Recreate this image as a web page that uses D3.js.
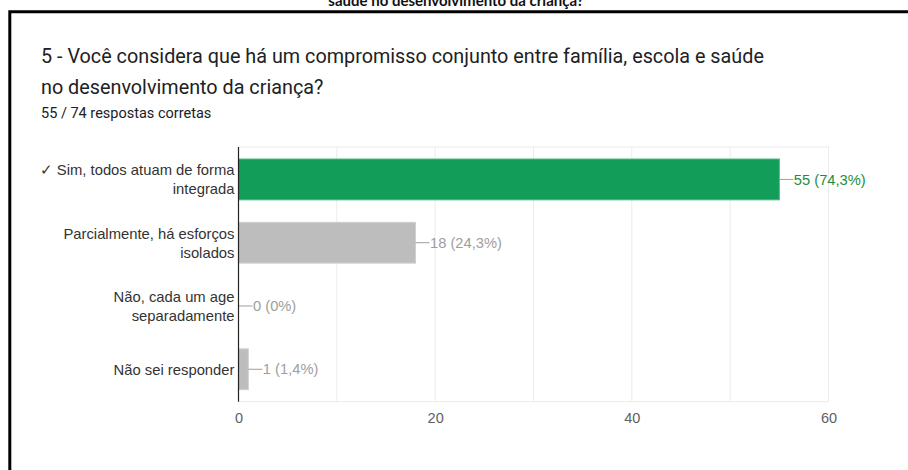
<!DOCTYPE html>
<html>
<head>
<meta charset="utf-8">
<script src="https://cdn.jsdelivr.net/npm/d3@7"></script>
<style>
  html, body { margin: 0; padding: 0; background: #ffffff; }
  svg { display: block; }
</style>
</head>
<body>
<svg id="chart" width="908" height="470"></svg>
<script>
// Survey question 5: answers and counts
const categories = [
  ["✓ Sim, todos atuam de forma", "integrada"],
  ["Parcialmente, há esforços", "isolados"],
  ["Não, cada um age", "separadamente"],
  ["Não sei responder"]
];
const counts = [55, 18, 0, 1];
const percentLabels = ["74,3%", "24,3%", "0%", "1,4%"];
const correct = [true, false, false, false];
const xTicks = [0, 20, 40, 60];
const gridTicks = [10, 20, 30, 40, 50, 60];

const svg = d3.select("#chart");

// heading carried over from the document page above
svg.append("text")
  .attr("x", 456).attr("y", 6)
  .attr("text-anchor", "middle")
  .attr("font-family", "Lato, 'Liberation Sans', sans-serif")
  .attr("font-weight", "bold")
  .attr("font-size", 15)
  .attr("fill", "#111")
  .text("saúde no desenvolvimento da criança?");

// frame (top and left edges)
svg.append("path")
  .attr("d", "M9.8,908 V11.8 H908")
  .attr("fill", "none")
  .attr("stroke", "#000")
  .attr("stroke-width", 3);

// question title
const title = svg.append("text")
  .attr("font-family", "Roboto, sans-serif")
  .attr("font-size", 19.8)
  .attr("fill", "#202124");
title.append("tspan").attr("x", 41).attr("y", 63)
  .text("5 - Você considera que há um compromisso conjunto entre família, escola e saúde");
title.append("tspan").attr("x", 41).attr("y", 94)
  .text("no desenvolvimento da criança?");

svg.append("text")
  .attr("x", 41).attr("y", 118)
  .attr("font-family", "Roboto, sans-serif")
  .attr("font-size", 14.5)
  .attr("fill", "#202124")
  .text("55 / 74 respostas corretas");

// plot area
const plot = { left: 238.5, right: 828.5, top: 147, bottom: 401.7 };

const x = d3.scaleLinear().domain([0, 60]).range([plot.left, plot.right]);
const y = d3.scaleBand()
  .domain(d3.range(categories.length))
  .range([plot.top, plot.bottom])
  .paddingInner(0.355)
  .paddingOuter(0.19);

// gridlines and box
const g = svg.append("g");
g.selectAll("line.grid")
  .data(gridTicks)
  .join("line")
  .attr("class", "grid")
  .attr("x1", d => x(d)).attr("x2", d => x(d))
  .attr("y1", plot.top).attr("y2", plot.bottom)
  .attr("stroke", "#ebebeb").attr("stroke-width", 1);
[plot.top, plot.bottom].forEach(yy => {
  g.append("line")
    .attr("x1", plot.left).attr("x2", x(60))
    .attr("y1", yy).attr("y2", yy)
    .attr("stroke", "#ebebeb").attr("stroke-width", 1);
});

// bars
g.selectAll("rect.bar")
  .data(counts)
  .join("rect")
  .attr("class", "bar")
  .attr("x", x(0))
  .attr("y", (d, i) => y(i))
  .attr("width", d => x(d) - x(0))
  .attr("height", y.bandwidth())
  .attr("fill", (d, i) => correct[i] ? "#129d59" : "#bdbdbd")
  .attr("stroke", (d, i) => d === 0 ? "none" : (correct[i] ? "#4cb880" : "#cfcfcf"))
  .attr("stroke-width", 1);

// value labels with leader lines
const labels = g.selectAll("g.val")
  .data(counts)
  .join("g")
  .attr("class", "val")
  .attr("transform", (d, i) => `translate(${x(d)},${y(i) + y.bandwidth() / 2})`);
labels.append("line")
  .attr("x1", 0).attr("x2", 14)
  .attr("y1", 0).attr("y2", 0)
  .attr("stroke", "#9e9e9e").attr("stroke-width", 1);
labels.append("text")
  .attr("x", 14.5).attr("dy", "0.35em")
  .attr("font-family", "'Liberation Sans', Arial, sans-serif")
  .attr("font-size", 14.7)
  .attr("fill", (d, i) => correct[i] ? "#1e8e3e" : "#9e9e9e")
  .text((d, i) => `${d} (${percentLabels[i]})`);

// category labels
const cats = g.selectAll("text.cat")
  .data(categories)
  .join("text")
  .attr("class", "cat")
  .attr("text-anchor", "end")
  .attr("font-family", "'Liberation Sans', Arial, sans-serif")
  .attr("font-size", 14.8)
  .attr("fill", "#333");
cats.each(function(lines, i) {
  const cy = y(i) + y.bandwidth() / 2;
  const lh = 19;
  const start = cy - (lines.length - 1) * lh / 2;
  d3.select(this).selectAll("tspan")
    .data(lines)
    .join("tspan")
    .attr("x", 234.5)
    .attr("y", (t, k) => start + k * lh)
    .attr("dy", "0.36em")
    .text(t => t);
});

// x axis tick labels
const xAxis = d3.axisBottom(x).tickValues(xTicks).tickSize(0).tickPadding(11);
const ax = svg.append("g")
  .attr("transform", `translate(0,${plot.bottom})`)
  .call(xAxis);
ax.select(".domain").remove();
ax.selectAll("text")
  .attr("font-family", "'Liberation Sans', Arial, sans-serif")
  .attr("font-size", 14.5)
  .attr("fill", "#616161");

// baseline at zero
svg.append("line")
  .attr("x1", x(0)).attr("x2", x(0))
  .attr("y1", plot.top).attr("y2", plot.bottom)
  .attr("stroke", "#222").attr("stroke-width", 1.2);
</script>
</body>
</html>
